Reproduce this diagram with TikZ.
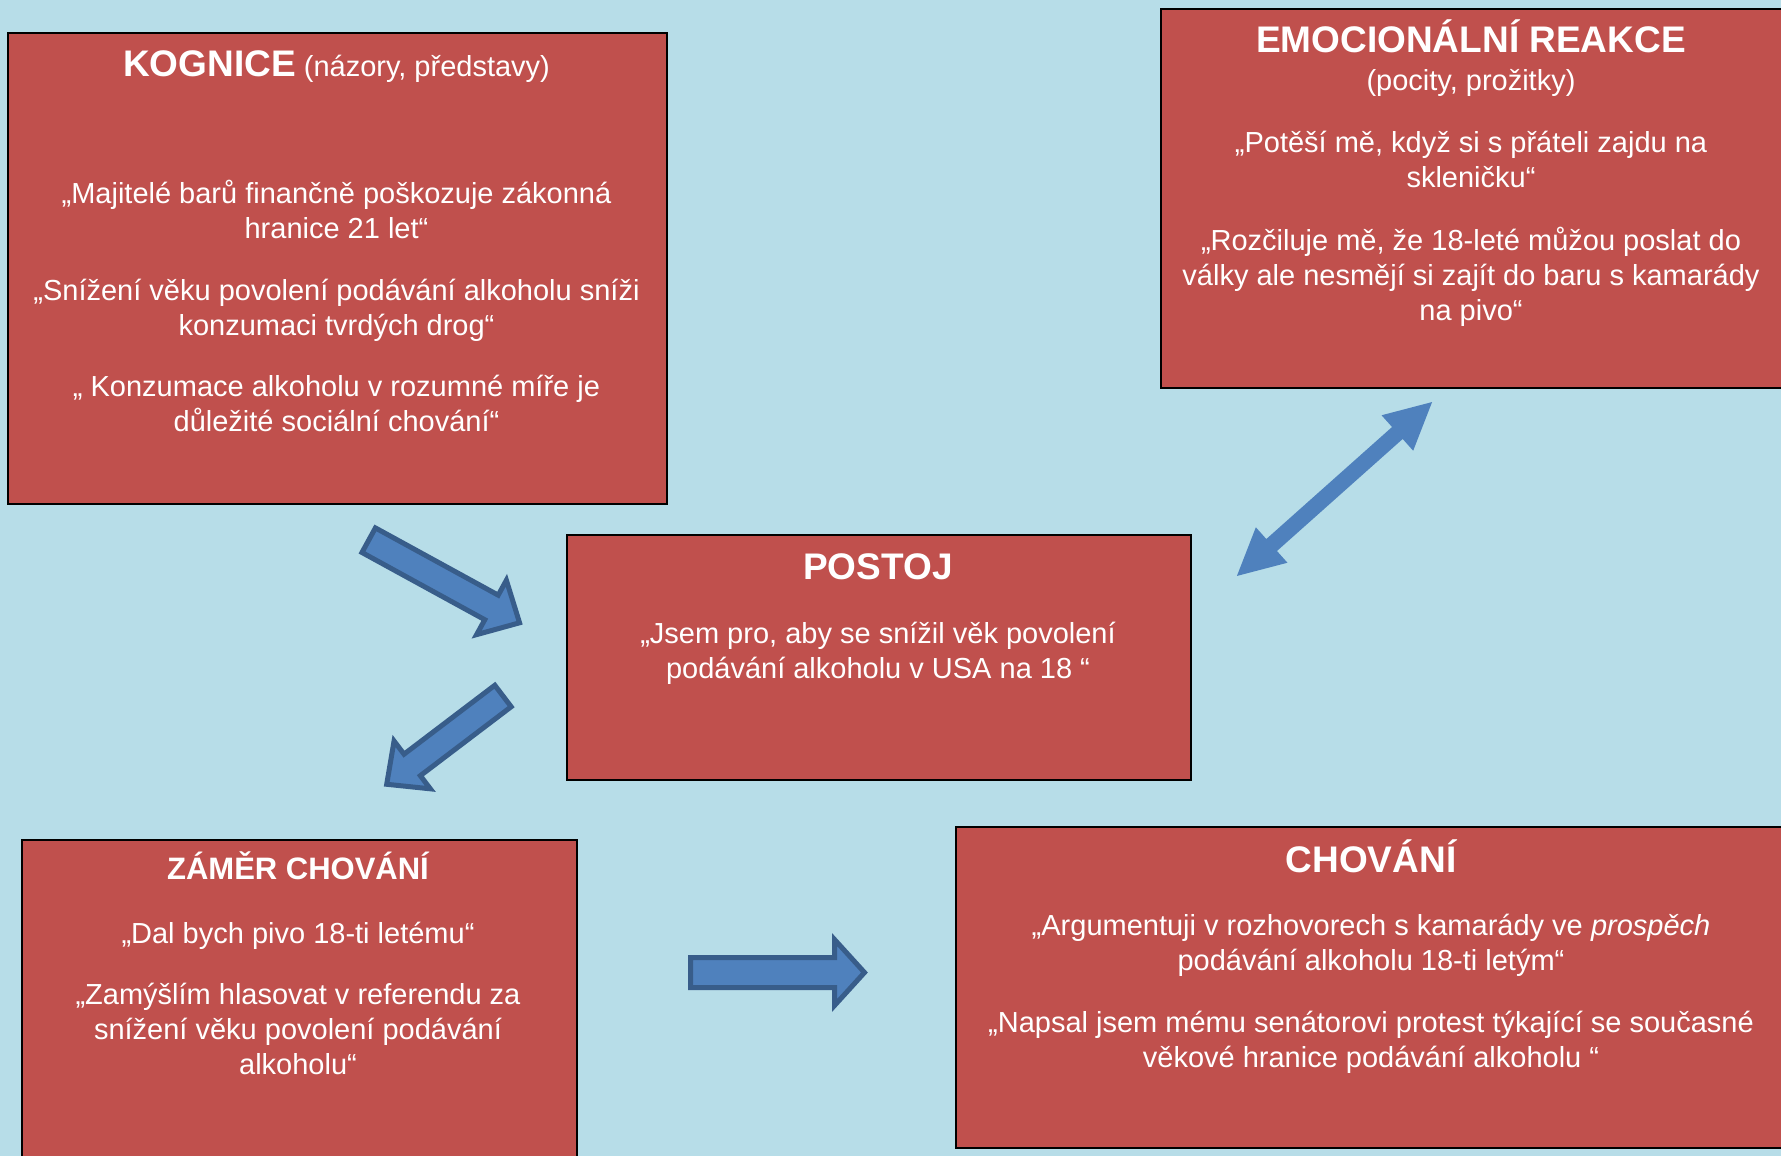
\documentclass[tikz,border=0pt]{standalone}
\usepackage{fontspec}
\setmainfont{Liberation Sans}
\definecolor{bgblue}{HTML}{B7DDE8}
\definecolor{boxred}{HTML}{C0504D}
\definecolor{arrfill}{HTML}{4F81BD}
\definecolor{arrline}{HTML}{385D8A}
\tikzset{
  redbox/.style={draw=black, line width=2pt, fill=boxred, anchor=north west, inner sep=0pt},
  body/.style={text=white, font=\fontsize{29pt}{35pt}\selectfont, align=center, inner sep=0pt, anchor=base},
  title/.style={text=white, font=\fontsize{37pt}{44pt}\selectfont\bfseries, align=center, inner sep=0pt, anchor=base},
  blockarrow/.style={fill=arrfill, draw=arrline, line width=5pt, miter limit=10},
  thinarrow/.style={fill=arrfill}
}
\begin{document}
\begin{tikzpicture}[x=1pt,y=-1pt]
\useasboundingbox (0,0) rectangle (1781,1156);
\clip (0,0) rectangle (1781,1156);
\fill[bgblue] (0,0) rectangle (1781,1156);

% boxes
\node[redbox, minimum width=659pt, minimum height=471pt] (kog) at (7,32) {};
\node[redbox, minimum width=640pt, minimum height=379pt] (emo) at (1160,8) {};
\node[redbox, minimum width=624pt, minimum height=245pt] (pos) at (566,534) {};
\node[redbox, minimum width=555pt, minimum height=340pt] (zam) at (21,839) {};
\node[redbox, minimum width=840pt, minimum height=321pt] (cho) at (955,826) {};

% KOGNICE (multi-line nodes are placed by the baseline of their last line)
\node[body] (kogT) at (336.5,77) {{\fontsize{37pt}{44pt}\selectfont\bfseries KOGNICE} (názory, představy)};
\node[body] (kog1) at (336.5,238) {„Majitelé barů finančně poškozuje zákonná\\hranice 21 let“};
\node[body] (kog2) at (336.5,335) {„Snížení věku povolení podávání alkoholu sníži\\konzumaci tvrdých drog“};
\node[body] (kog3) at (336.5,431) {„ Konzumace alkoholu v rozumné míře je\\důležité sociální chování“};

% EMOCIONALNI REAKCE
\node[title] (emoT) at (1471,53) {EMOCIONÁLNÍ REAKCE};
\node[body] (emoS) at (1471,91) {(pocity, prožitky)};
\node[body] (emo1) at (1471,187) {„Potěší mě, když si s přáteli zajdu na\\skleničku“};
\node[body] (emo2) at (1471,320) {„Rozčiluje mě, že 18-leté můžou poslat do\\války ale nesmějí si zajít do baru s kamarády\\na pivo“};

% POSTOJ
\node[title] (posT) at (878,579) {POSTOJ};
\node[body] (pos1) at (878,678) {„Jsem pro, aby se snížil věk povolení\\podávání alkoholu v USA na 18 “};

% ZAMER CHOVANI
\node[title, font=\fontsize{31pt}{37pt}\selectfont\bfseries] (zamT) at (298,879) {ZÁMĚR CHOVÁNÍ};
\node[body] (zam1) at (298,943) {„Dal bych pivo 18-ti letému“};
\node[body] (zam2) at (298,1074) {„Zamýšlím hlasovat v referendu za\\snížení věku povolení podávání\\alkoholu“};

% CHOVANI
\node[title] (choT) at (1371,872) {CHOVÁNÍ};
\node[body] (cho1) at (1371,970) {„Argumentuji v rozhovorech s kamarády ve \textit{prospěch}\\podávání alkoholu 18-ti letým“};
\node[body] (cho2) at (1371,1067) {„Napsal jsem mému senátorovi protest týkající se současné\\věkové hranice podávání alkoholu “};

% block arrows
\begin{scope}[shift={(368.7,540.2)}, rotate=-28.7]
\filldraw[blockarrow] (0,-14) -- (140,-14) -- (140,-31) -- (172,0) -- (140,31) -- (140,14) -- (0,14) -- cycle;
\end{scope}
\begin{scope}[shift={(503,696)}, rotate=-142.8]
\filldraw[blockarrow] (0,-13.5) -- (114,-13.5) -- (114,-30) -- (146,0) -- (114,30) -- (114,13.5) -- (0,13.5) -- cycle;
\end{scope}
\begin{scope}[shift={(690.5,972.5)}]
\filldraw[blockarrow] (0,-15) -- (144,-15) -- (144,-33) -- (174,0) -- (144,33) -- (144,15) -- (0,15) -- cycle;
\end{scope}
\begin{scope}[shift={(1334.5,489)}, rotate=41.7]
\fill[thinarrow] (-130.7,0) -- (-84.2,23.75) -- (-84.2,8) -- (84.2,8) -- (84.2,23.75) -- (130.7,0) -- (84.2,-23.75) -- (84.2,-8) -- (-84.2,-8) -- (-84.2,-23.75) -- cycle;
\end{scope}
\end{tikzpicture}
\end{document}
